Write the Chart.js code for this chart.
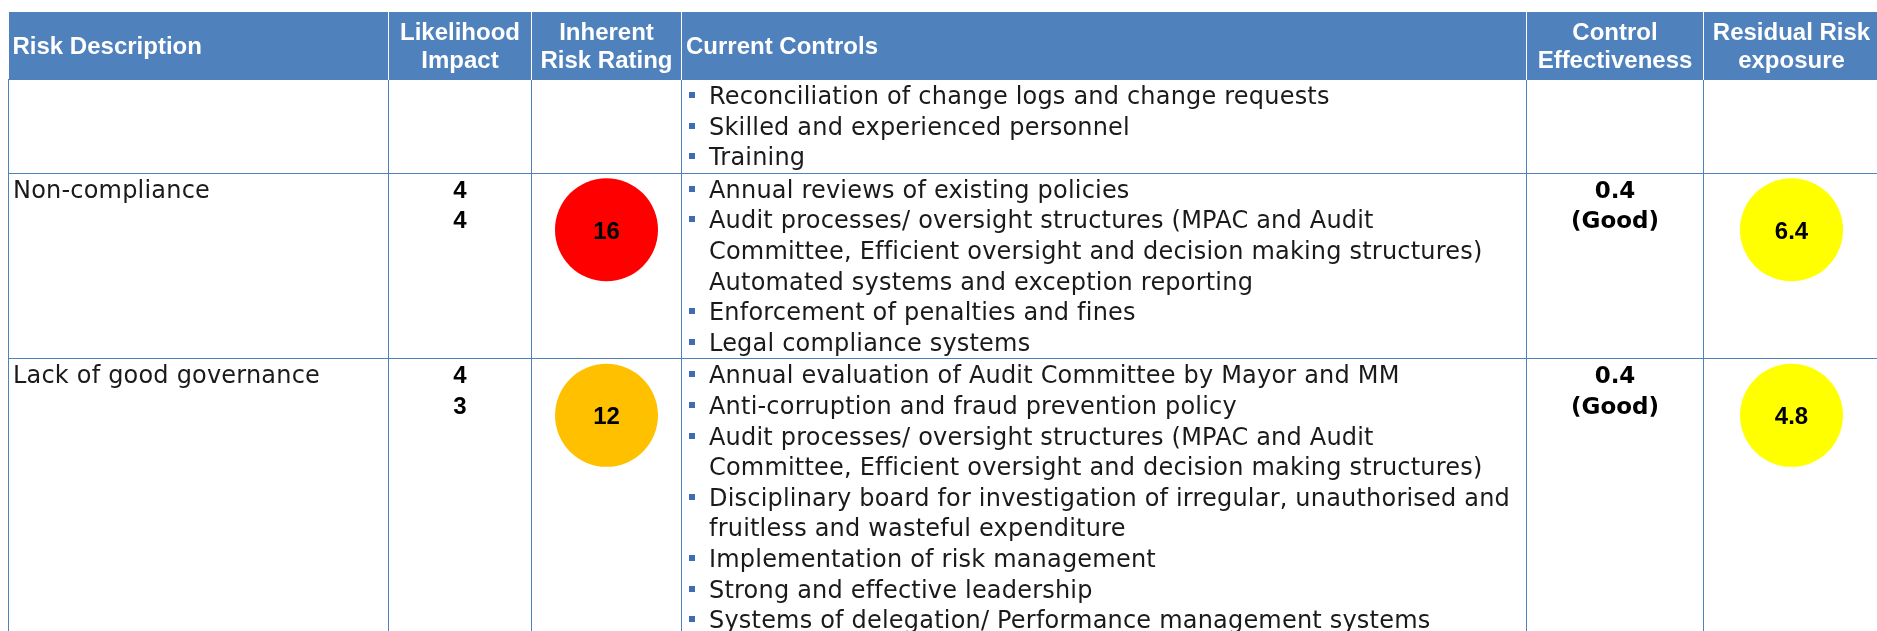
<!DOCTYPE html>
<html>
<head>
  <title>Risk Register</title>
  <script src="https://cdn.jsdelivr.net/npm/chart.js@4.4.1/dist/chart.umd.min.js"></script>
  <style>
    html, body {
      margin: 0;
      padding: 0;
      background: #fff;
      width: 1877px;
      height: 631px;
      overflow: hidden;
    }
    #bubbles {
      position: absolute;
      left: 0;
      top: 0;
      z-index: 0;
    }
    table {
      position: absolute;
      left: 8px;
      top: 12px;
      z-index: 1;
      border-collapse: collapse;
      table-layout: fixed;
      width: 1871px;
    }
    th {
      background: #4F81BD;
      color: #fff;
      font: bold 24px 'Liberation Sans', Arial, sans-serif;
      line-height: 28px;
      height: 67px;
      padding: 0 4px;
      border-right: 1px solid #fff;
      text-align: center;
      vertical-align: middle;
      white-space: pre;
    }
    th.left { text-align: left; }
    td {
      border: 1px solid #4F81BD;
      vertical-align: top;
      padding: 1px 4px 0 4px;
      font: 24px 'DejaVu Sans', sans-serif;
      letter-spacing: 0.2px;
      line-height: 30.6px;
      color: #1a1a1a;
      white-space: pre;
    }
    td.num {
      text-align: center;
      font: bold 24px 'Liberation Sans', Arial, sans-serif;
      letter-spacing: 0;
      line-height: 30.6px;
      color: #000;
    }
    td.eff {
      font: bold 23px 'DejaVu Sans', sans-serif;
      line-height: 30.6px;
    }
    td.ctl { padding-left: 7px; }
    .item {
      position: relative;
      padding-left: 20px;
    }
    .item::before {
      content: '';
      position: absolute;
      left: 0;
      top: 11px;
      width: 6px;
      height: 6px;
      background: #3E6DB5;
    }
    .dot {
      margin-top: 3px;
      height: 104px;
      text-align: center;
      font: bold 24px 'Liberation Sans', Arial, sans-serif;
      letter-spacing: 0;
      line-height: 106px;
      color: #000;
    }
  </style>
</head>
<body>
  <canvas id="bubbles" width="1877" height="631"></canvas>
  <table id="register">
    <colgroup>
      <col style="width:380px"><col style="width:143px"><col style="width:150px">
      <col style="width:845px"><col style="width:177px"><col style="width:176px">
    </colgroup>
    <thead><tr id="headRow"></tr></thead>
    <tbody id="bodyRows"></tbody>
  </table>

  <script>
    const headers = ['Risk Description', 'Likelihood\nImpact', 'Inherent\nRisk Rating',
      'Current Controls', 'Control\nEffectiveness', 'Residual Risk\nexposure'];
    const risks = ['', 'Non-compliance', 'Lack of good governance'];
    const likelihood = [null, 4, 4];
    const impact = [null, 4, 3];
    const inherentRating = [null, 16, 12];
    const controlScore = [null, 0.4, 0.4];
    const controlGrade = ['', 'Good', 'Good'];
    const residualExposure = [null, 6.4, 4.8];
    const currentControls = [
      [
        'Reconciliation of change logs and change requests',
        'Skilled and experienced personnel',
        'Training'
      ],
      [
        'Annual reviews of existing policies',
        'Audit processes/ oversight structures (MPAC and Audit\nCommittee, Efficient oversight and decision making structures)\nAutomated systems and exception reporting',
        'Enforcement of penalties and fines',
        'Legal compliance systems'
      ],
      [
        'Annual evaluation of Audit Committee by Mayor and MM',
        'Anti-corruption and fraud prevention policy',
        'Audit processes/ oversight structures (MPAC and Audit\nCommittee, Efficient oversight and decision making structures)',
        'Disciplinary board for investigation of irregular, unauthorised and\nfruitless and wasteful expenditure',
        'Implementation of risk management',
        'Strong and effective leadership',
        'Systems of delegation/ Performance management systems'
      ]
    ];

    const rowHeights = [92, 184, null];

    function ratingColour(v) {
      if (v >= 15) return '#FF0000';
      if (v >= 10) return '#FFC000';
      return '#FFFF00';
    }

    // header
    const headRow = document.getElementById('headRow');
    headers.forEach((h, i) => {
      const th = document.createElement('th');
      th.textContent = h;
      if (i === 0 || i === 3) th.className = 'left';
      headRow.appendChild(th);
    });

    // body
    const bodyRows = document.getElementById('bodyRows');
    const inherentDots = [];
    const residualDots = [];
    risks.forEach((risk, i) => {
      const tr = document.createElement('tr');
      if (rowHeights[i]) tr.style.height = rowHeights[i] + 'px';

      const tdRisk = document.createElement('td');
      tdRisk.textContent = risk;
      tr.appendChild(tdRisk);

      const tdLi = document.createElement('td');
      tdLi.className = 'num';
      if (likelihood[i] !== null) tdLi.textContent = likelihood[i] + '\n' + impact[i];
      tr.appendChild(tdLi);

      const tdIn = document.createElement('td');
      if (inherentRating[i] !== null) {
        const dot = document.createElement('div');
        dot.className = 'dot';
        dot.textContent = inherentRating[i];
        tdIn.appendChild(dot);
        inherentDots.push({ el: dot, value: inherentRating[i] });
      }
      tr.appendChild(tdIn);

      const tdCtl = document.createElement('td');
      tdCtl.className = 'ctl';
      currentControls[i].forEach(c => {
        const d = document.createElement('div');
        d.className = 'item';
        d.textContent = c;
        tdCtl.appendChild(d);
      });
      tr.appendChild(tdCtl);

      const tdEff = document.createElement('td');
      tdEff.className = 'num eff';
      if (controlScore[i] !== null) tdEff.textContent = controlScore[i] + '\n(' + controlGrade[i] + ')';
      tr.appendChild(tdEff);

      const tdRes = document.createElement('td');
      if (residualExposure[i] !== null) {
        const dot = document.createElement('div');
        dot.className = 'dot';
        dot.textContent = residualExposure[i];
        tdRes.appendChild(dot);
        residualDots.push({ el: dot, value: residualExposure[i] });
      }
      tr.appendChild(tdRes);

      bodyRows.appendChild(tr);
    });

    // circles sit under the rating labels, placed through the chart's scales
    function toPoints(dots) {
      return dots.map(d => {
        const b = d.el.getBoundingClientRect();
        return { x: b.left + b.width / 2, y: b.top + b.height / 2, r: 51.5 };
      });
    }

    new Chart(document.getElementById('bubbles'), {
      type: 'bubble',
      data: {
        datasets: [
          {
            label: 'Inherent Risk Rating',
            data: toPoints(inherentDots),
            backgroundColor: inherentDots.map(d => ratingColour(d.value)),
            borderWidth: 0
          },
          {
            label: 'Residual Risk exposure',
            data: toPoints(residualDots),
            backgroundColor: residualDots.map(d => ratingColour(d.value)),
            borderWidth: 0
          }
        ]
      },
      options: {
        responsive: false,
        animation: false,
        events: [],
        layout: { padding: 0, autoPadding: false },
        plugins: {
          legend: { display: false },
          tooltip: { enabled: false }
        },
        scales: {
          x: { type: 'linear', display: false, min: 0, max: 1877 },
          y: { type: 'linear', display: false, min: 0, max: 631, reverse: true }
        }
      }
    });
  </script>
</body>
</html>
